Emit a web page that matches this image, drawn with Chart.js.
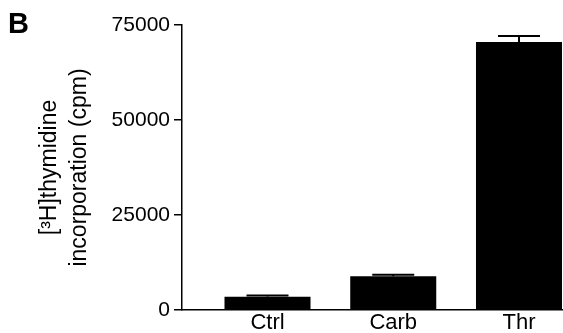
<!DOCTYPE html>
<html>
<head>
<meta charset="utf-8">
<script src="https://cdn.jsdelivr.net/npm/chart.js@4.4.0/dist/chart.umd.min.js"></script>
<style>
  body { margin: 0; background: #fff; }
  #wrap { position: relative; width: 563px; height: 333px; }
</style>
</head>
<body>
<div id="wrap"><canvas id="chart"></canvas></div>
<script>
// Valores (média e erro padrão, cpm)
const categories = ['Ctrl', 'Carb', 'Thr'];
const meanValues = [3500, 8900, 70500];
const semValues = [300, 400, 1600];
const yTicks = [0, 25000, 50000, 75000];

Chart.defaults.font.family = '"Liberation Sans", Arial, Helvetica, sans-serif';
Chart.defaults.color = '#000';

// Barras de erro (só a parte de cima aparece sobre a barra preta)
const errorBars = {
    id: 'errorBars',
    afterDatasetsDraw(chart) {
        const ctx = chart.ctx;
        const xs = chart.scales.x, ys = chart.scales.y;
        ctx.save();
        ctx.strokeStyle = '#000';
        ctx.lineWidth = 2;
        meanValues.forEach((v, i) => {
            const x = xs.getPixelForValue(i);
            const y0 = ys.getPixelForValue(v);
            const y1 = ys.getPixelForValue(v + semValues[i]);
            ctx.beginPath();
            ctx.moveTo(x, y0);
            ctx.lineTo(x, y1);
            ctx.moveTo(x - 21, y1);
            ctx.lineTo(x + 21, y1);
            ctx.stroke();
        });
        ctx.restore();
    }
};

// Letra do painel
const panelLetter = {
    id: 'panelLetter',
    afterDraw(chart) {
        const ctx = chart.ctx;
        ctx.save();
        ctx.fillStyle = '#000';
        ctx.font = 'bold 29px "Liberation Sans", Arial, sans-serif';
        ctx.textBaseline = 'alphabetic';
        ctx.fillText('B', 8, 33);
        ctx.restore();
    }
};

new Chart(document.getElementById('chart'), {
    type: 'bar',
    data: {
        datasets: [{
            data: meanValues.map((v, i) => ({ x: i, y: v })),
            backgroundColor: '#000',
            borderWidth: 0,
            barPercentage: 0.684,
            categoryPercentage: 1
        }]
    },
    options: {
        responsive: true,
        maintainAspectRatio: false,
        animation: false,
        layout: { padding: { top: 25, right: 0, left: 0, bottom: 0 } },
        plugins: {
            legend: { display: false },
            tooltip: { enabled: false }
        },
        scales: {
            x: {
                type: 'linear',
                offset: false,
                min: -0.68,
                max: 2.35,
                afterBuildTicks: s => { s.ticks = categories.map((c, i) => ({ value: i })); },
                afterFit: s => { s.height = 23; },
                grid: { display: false, drawTicks: false },
                border: { color: '#000', width: 1.5 },
                ticks: {
                    padding: 0,
                    font: { size: 22 },
                    callback: v => categories[v]
                }
            },
            y: {
                min: 0,
                max: 75000,
                afterBuildTicks: s => { s.ticks = yTicks.map(v => ({ value: v })); },
                afterFit: s => { s.width = 182; },
                grid: { drawOnChartArea: false, color: '#000', lineWidth: 1.5, tickLength: 8 },
                border: { color: '#000', width: 1.5 },
                ticks: { padding: 4, font: { size: 21 }, callback: v => String(v) },
                title: {
                    display: true,
                    text: ['[³H]thymidine', 'incorporation (cpm)'],
                    font: { size: 23, lineHeight: 1.3 },
                    padding: { top: 35, bottom: 0 }
                }
            }
        }
    },
    plugins: [errorBars, panelLetter]
});
</script>
</body>
</html>
